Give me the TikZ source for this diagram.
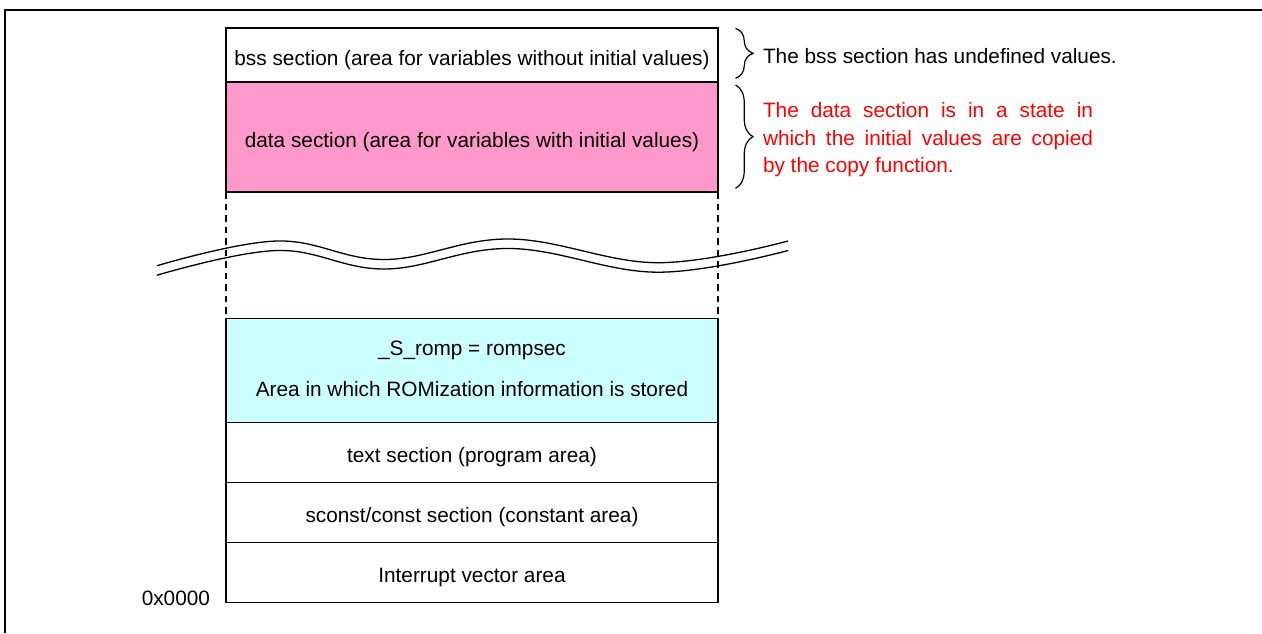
\documentclass[tikz,border=0pt]{standalone}
\usepackage{fontspec}
\setmainfont{Liberation Sans}
\usetikzlibrary{decorations.pathreplacing}
\definecolor{datapink}{HTML}{FF99CC}
\definecolor{rompcyan}{HTML}{CCFFFF}
\definecolor{notered}{HTML}{FF0000}

\begin{document}
\begin{tikzpicture}[x=1pt, y=-1pt,
  font=\fontsize{20.8}{25}\selectfont,
  sect/.style={draw, line width=1.5pt, minimum width=492pt, inner sep=0pt,
    outer sep=0pt, text height=22pt, text depth=2pt, anchor=north},
  lbl/.style={inner sep=0pt, outer sep=0pt},
  frameline/.style={line width=2pt, line join=miter},
  guide/.style={line width=1.3pt, dash pattern=on 6.5pt off 5pt},
  wave/.style={line width=1.3pt},
  bracemark/.style={decorate, decoration={brace, amplitude=17.5pt}, line width=1.2pt}
]
\useasboundingbox (0,0) rectangle (1262,633);

% outer frame (top and left edges)
\draw[frameline] (1262,10) -- (5,10) -- (5,633);

% upper memory sections
\node[sect, minimum height=54pt] (bss) at (472,28)
  {bss section (area for variables without initial values)};
\node[sect, fill=datapink, minimum height=110pt] (data) at (bss.south)
  {data section (area for variables with initial values)};

% lower memory sections
\node[sect, fill=rompcyan, minimum height=104.4pt] (romp) at (472,318.3) {};
\node[lbl, anchor=base] (rompname) at ([yshift=15.5pt]romp.center) {\_S\_romp = rompsec};
\node[lbl, anchor=base] (rompinfo) at ([yshift=-26.2pt]romp.center)
  {Area in which ROMization information is stored};
\node[sect, minimum height=59.8pt] (text) at (romp.south) {text section (program area)};
\node[sect, minimum height=60pt] (sconst) at (text.south) {sconst/const section (constant area)};
\node[sect, minimum height=60pt] (intr) at (sconst.south) {Interrupt vector area};

\node[lbl, anchor=base east] (addr) at ([xshift=-16pt, yshift=-2.7pt]intr.south west) {0x0000};

% address gap between the two parts
\draw[guide] (data.south west) -- (romp.north west);
\draw[guide] (data.south east) -- (romp.north east);
\foreach \dy in {0,9.5}
  \draw[wave, yshift=-\dy pt] plot[smooth, tension=0.65] coordinates
    {(157,265.7) (277,241) (385,259.5) (510,239) (657,262.7) (788,241)};

% notes
\draw[bracemark] ([xshift=17.5pt, yshift=-0.3pt]bss.north east)
  -- ([xshift=17.5pt, yshift=3.7pt]bss.south east);
\draw[bracemark] ([xshift=17.5pt, yshift=-3pt]data.north east)
  -- ([xshift=17.5pt, yshift=3.7pt]data.south east);

\node[lbl, anchor=base west] (bssnote) at (763,63.3) {The bss section has undefined values.};
\node[lbl, anchor=base west, text=notered] (datanote) at (763,117.3)
  {\parbox[t]{330pt}{\fontsize{20.8}{27.7}\selectfont The data section is in a state in\linebreak
   which the initial values are copied\linebreak by the copy function.}};
\end{tikzpicture}
\end{document}
